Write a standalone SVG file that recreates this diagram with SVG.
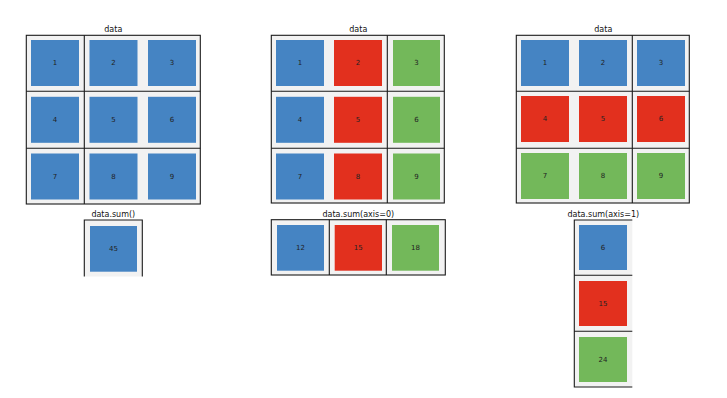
<svg xmlns="http://www.w3.org/2000/svg" width="727" height="398" viewBox="0 0 727 398">
<style>
.bg{fill:#f2f2f2;stroke:none}
.ln{stroke:#1a1a1a;stroke-width:1.1;fill:none}
.b{fill:#4584c3}
.r{fill:#e2301e}
.g{fill:#73b85a}
.t{font-family:"DejaVu Sans",sans-serif;font-size:8px;fill:#111;text-anchor:middle}
.n{font-family:"DejaVu Sans",sans-serif;font-size:7px;fill:#222;text-anchor:middle;dominant-baseline:central}
</style>
<rect width="727" height="398" fill="#ffffff"/>

<!-- Panel 1: data, all blue -->
<g id="panel1">
<text class="t" x="113.3" y="32">data</text>
<rect class="bg" x="26.3" y="35.3" width="174" height="168.7"/>
<rect class="b" x="31" y="40" width="48" height="46"/>
<rect class="b" x="89.5" y="40" width="48" height="46"/>
<rect class="b" x="148" y="40" width="48" height="46"/>
<rect class="b" x="31" y="96.8" width="48" height="46"/>
<rect class="b" x="89.5" y="96.8" width="48" height="46"/>
<rect class="b" x="148" y="96.8" width="48" height="46"/>
<rect class="b" x="31" y="153.5" width="48" height="46"/>
<rect class="b" x="89.5" y="153.5" width="48" height="46"/>
<rect class="b" x="148" y="153.5" width="48" height="46"/>
<text class="n" x="55" y="63">1</text>
<text class="n" x="113.5" y="63">2</text>
<text class="n" x="172" y="63">3</text>
<text class="n" x="55" y="119.8">4</text>
<text class="n" x="113.5" y="119.8">5</text>
<text class="n" x="172" y="119.8">6</text>
<text class="n" x="55" y="176.5">7</text>
<text class="n" x="113.5" y="176.5">8</text>
<text class="n" x="172" y="176.5">9</text>
<rect class="ln" x="26.3" y="35.3" width="174" height="168.7"/>
<path class="ln" d="M84.3 35.3V204M26.3 91.3H200.3M26.3 148.3H200.3"/>
</g>

<!-- Panel 2: data, columns coloured -->
<g id="panel2">
<text class="t" x="358.3" y="32">data</text>
<rect class="bg" x="271.3" y="35.3" width="173" height="167.7"/>
<rect class="b" x="276" y="40" width="48" height="46"/>
<rect class="r" x="334" y="40" width="48" height="46"/>
<rect class="g" x="393" y="40" width="47" height="46"/>
<rect class="b" x="276" y="96.8" width="48" height="46"/>
<rect class="r" x="334" y="96.8" width="48" height="46"/>
<rect class="g" x="393" y="96.8" width="47" height="46"/>
<rect class="b" x="276" y="153.5" width="48" height="46"/>
<rect class="r" x="334" y="153.5" width="48" height="46"/>
<rect class="g" x="393" y="153.5" width="47" height="46"/>
<text class="n" x="300" y="63">1</text>
<text class="n" x="358" y="63">2</text>
<text class="n" x="416.5" y="63">3</text>
<text class="n" x="300" y="119.8">4</text>
<text class="n" x="358" y="119.8">5</text>
<text class="n" x="416.5" y="119.8">6</text>
<text class="n" x="300" y="176.5">7</text>
<text class="n" x="358" y="176.5">8</text>
<text class="n" x="416.5" y="176.5">9</text>
<rect class="ln" x="271.3" y="35.3" width="173" height="167.7"/>
<path class="ln" d="M387.3 35.3V203M271.3 91.3H444.3M271.3 148.3H444.3"/>
</g>

<!-- Panel 3: data, rows coloured -->
<g id="panel3">
<text class="t" x="603.3" y="32">data</text>
<rect class="bg" x="516.3" y="35.3" width="173" height="167.7"/>
<rect class="b" x="521" y="40" width="48" height="46"/>
<rect class="b" x="579" y="40" width="48" height="46"/>
<rect class="b" x="637" y="40" width="48" height="46"/>
<rect class="r" x="521" y="96" width="48" height="46"/>
<rect class="r" x="579" y="96" width="48" height="46"/>
<rect class="r" x="637" y="96" width="48" height="46"/>
<rect class="g" x="521" y="153" width="48" height="46"/>
<rect class="g" x="579" y="153" width="48" height="46"/>
<rect class="g" x="637" y="153" width="48" height="46"/>
<text class="n" x="545" y="63">1</text>
<text class="n" x="603" y="63">2</text>
<text class="n" x="661" y="63">3</text>
<text class="n" x="545" y="119">4</text>
<text class="n" x="603" y="119">5</text>
<text class="n" x="661" y="119">6</text>
<text class="n" x="545" y="176">7</text>
<text class="n" x="603" y="176">8</text>
<text class="n" x="661" y="176">9</text>
<rect class="ln" x="516.3" y="35.3" width="173" height="167.7"/>
<path class="ln" d="M632.3 35.3V203M516.3 91.3H689.3M516.3 148.3H689.3"/>
</g>

<!-- Sum 1: data.sum() -->
<g id="sum_all">
<text class="t" x="113.3" y="217.3">data.sum()</text>
<rect class="bg" x="84.3" y="220" width="58" height="56.5"/>
<rect class="b" x="90" y="226" width="47" height="45.7"/>
<text class="n" x="113.5" y="249">45</text>
<path class="ln" d="M84.3 276.5V220H142.3V276.5"/>
</g>

<!-- Sum 2: data.sum(axis=0) -->
<g id="sum_axis0">
<text class="t" x="358.3" y="217.3">data.sum(axis=0)</text>
<rect class="bg" x="271.3" y="219.7" width="174" height="55.3"/>
<rect class="b" x="277" y="225" width="47" height="45.7"/>
<rect class="r" x="334.7" y="225" width="47.3" height="45.7"/>
<rect class="g" x="392" y="225" width="47" height="45.7"/>
<text class="n" x="300.5" y="248">12</text>
<text class="n" x="358.3" y="248">15</text>
<text class="n" x="415.5" y="248">18</text>
<rect class="ln" x="271.3" y="219.7" width="174" height="55.3"/>
<path class="ln" d="M329.3 219.7V275M386.3 219.7V275"/>
</g>

<!-- Sum 3: data.sum(axis=1) -->
<g id="sum_axis1">
<text class="t" x="603.3" y="217.3">data.sum(axis=1)</text>
<rect class="bg" x="574.3" y="220" width="58" height="167"/>
<rect class="b" x="579" y="225" width="48" height="45"/>
<rect class="r" x="579" y="281" width="48" height="45"/>
<rect class="g" x="579" y="337" width="48" height="45"/>
<text class="n" x="603" y="247.5">6</text>
<text class="n" x="603" y="303.5">15</text>
<text class="n" x="603" y="359.5">24</text>
<path class="ln" d="M632.3 220H574.3V387H632.3M574.3 275.3H632.3M574.3 331.3H632.3"/>
</g>

<g id="connectors"></g>
</svg>
